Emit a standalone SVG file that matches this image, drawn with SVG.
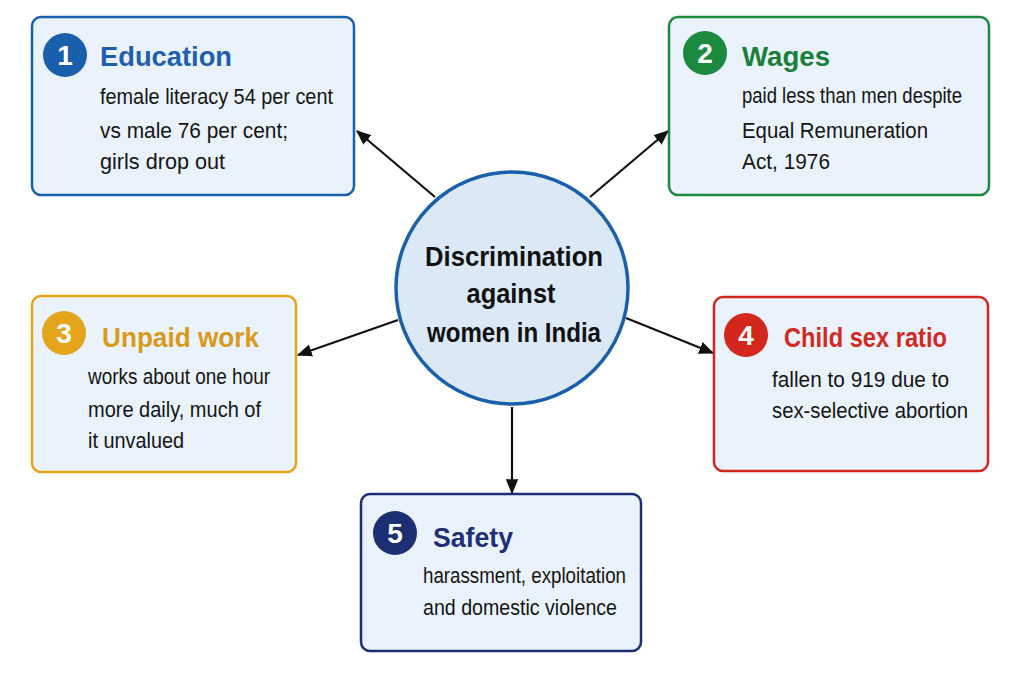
<svg xmlns="http://www.w3.org/2000/svg" width="1024" height="683" viewBox="0 0 1024 683">
<defs>
<marker id="ah" viewBox="0 0 12 10" refX="11" refY="5" markerWidth="15" markerHeight="13" markerUnits="userSpaceOnUse" orient="auto">
<path d="M0,0 L12,5 L0,10 z" fill="#111"/>
</marker>
</defs>
<style>
.box{fill:#eaf2fb;stroke-width:2.5}
.title{font-family:"Liberation Sans",Arial,sans-serif;font-weight:bold;font-size:27px}
.body{font-family:"Liberation Sans",Arial,sans-serif;font-size:22px;fill:#151515}
.num{font-family:"Liberation Sans",Arial,sans-serif;font-weight:bold;font-size:28px;fill:#fff;text-anchor:middle}
.ctr{font-family:"Liberation Sans",Arial,sans-serif;font-weight:bold;font-size:28px;fill:#111;text-anchor:middle}
.conn{stroke:#111;stroke-width:2.2;fill:none;marker-end:url(#ah)}
</style>
<rect width="1024" height="683" fill="#ffffff"/>
<g id="connectors">
<line class="conn" x1="435" y1="197" x2="357" y2="131"/>
<line class="conn" x1="590" y1="197" x2="668" y2="131"/>
<line class="conn" x1="398" y1="320" x2="298" y2="355"/>
<line class="conn" x1="626" y1="318" x2="713" y2="353"/>
<line class="conn" x1="512" y1="407" x2="512" y2="493"/>
</g>
<g id="center">
<circle cx="512" cy="288" r="116" fill="#dbe9f7" stroke="#1a5fab" stroke-width="3.5"/>
<text class="ctr" x="514" y="266" textLength="178" lengthAdjust="spacingAndGlyphs">Discrimination</text>
<text class="ctr" x="511" y="303" textLength="89" lengthAdjust="spacingAndGlyphs">against</text>
<text class="ctr" x="514" y="342" textLength="174" lengthAdjust="spacingAndGlyphs">women in India</text>
</g>
<g id="education">
<rect class="box" x="32" y="17" width="322" height="178" rx="9" stroke="#1a5fab"/>
<circle cx="65" cy="55" r="22" fill="#1a5fab"/>
<text class="num" x="65" y="65">1</text>
<text class="title" x="100" y="66" fill="#1f5fae" textLength="132" lengthAdjust="spacingAndGlyphs">Education</text>
<text class="body" x="100" y="104" textLength="233" lengthAdjust="spacingAndGlyphs">female literacy 54 per cent</text>
<text class="body" x="100" y="138" textLength="188" lengthAdjust="spacingAndGlyphs">vs male 76 per cent;</text>
<text class="body" x="100" y="169" textLength="125" lengthAdjust="spacingAndGlyphs">girls drop out</text>
</g>
<g id="wages">
<rect class="box" x="669" y="17" width="320" height="178" rx="9" stroke="#1b8a3f"/>
<circle cx="705" cy="53" r="22" fill="#1b8a3f"/>
<text class="num" x="705" y="63">2</text>
<text class="title" x="742" y="66" fill="#1a7f3b" textLength="88" lengthAdjust="spacingAndGlyphs">Wages</text>
<text class="body" x="742" y="103" textLength="220" lengthAdjust="spacingAndGlyphs">paid less than men despite</text>
<text class="body" x="742" y="138" textLength="186" lengthAdjust="spacingAndGlyphs">Equal Remuneration</text>
<text class="body" x="742" y="169" textLength="88" lengthAdjust="spacingAndGlyphs">Act, 1976</text>
</g>
<g id="unpaid-work">
<rect class="box" x="32" y="296" width="264" height="176" rx="9" stroke="#e4a41b"/>
<circle cx="64" cy="333" r="22" fill="#e4a41b"/>
<text class="num" x="64" y="343">3</text>
<text class="title" x="102" y="347" fill="#d99a1a" textLength="157" lengthAdjust="spacingAndGlyphs">Unpaid work</text>
<text class="body" x="88" y="384" textLength="182" lengthAdjust="spacingAndGlyphs">works about one hour</text>
<text class="body" x="88" y="417" textLength="173" lengthAdjust="spacingAndGlyphs">more daily, much of</text>
<text class="body" x="88" y="448" textLength="96" lengthAdjust="spacingAndGlyphs">it unvalued</text>
</g>
<g id="child-sex-ratio">
<rect class="box" x="714" y="297" width="274" height="174" rx="9" stroke="#d3271e"/>
<circle cx="746" cy="335" r="22" fill="#d3271e"/>
<text class="num" x="746" y="345">4</text>
<text class="title" x="784" y="347" fill="#d22a22" textLength="163" lengthAdjust="spacingAndGlyphs">Child sex ratio</text>
<text class="body" x="772" y="387" textLength="177" lengthAdjust="spacingAndGlyphs">fallen to 919 due to</text>
<text class="body" x="772" y="418" textLength="196" lengthAdjust="spacingAndGlyphs">sex-selective abortion</text>
</g>
<g id="safety">
<rect class="box" x="361" y="494" width="280" height="157" rx="9" stroke="#1c2f73"/>
<circle cx="395" cy="533" r="22" fill="#1c2f73"/>
<text class="num" x="395" y="543">5</text>
<text class="title" x="433" y="547" fill="#1f2f78" textLength="80" lengthAdjust="spacingAndGlyphs">Safety</text>
<text class="body" x="423" y="583" textLength="203" lengthAdjust="spacingAndGlyphs">harassment, exploitation</text>
<text class="body" x="423" y="615" textLength="194" lengthAdjust="spacingAndGlyphs">and domestic violence</text>
</g>
</svg>
